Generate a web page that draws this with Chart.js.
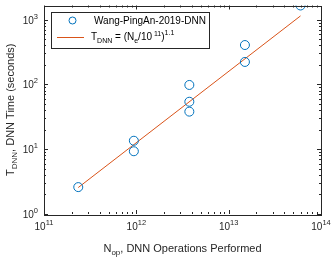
<!DOCTYPE html>
<html>
<head>
<meta charset="utf-8">
<script src="https://cdn.jsdelivr.net/npm/chart.js@4/dist/chart.umd.min.js"></script>
<style>
  html, body { margin: 0; padding: 0; background: #fff; }
  #wrap { width: 332px; height: 259px; }
</style>
</head>
<body>
<div id="wrap"><canvas id="c"></canvas></div>
<script>
// measured points, Wang-PingAn-2019-DNN
const opsPerformed = [2.35e11, 9.4e11, 9.4e11, 3.75e12, 3.75e12, 3.75e12, 1.5e13, 1.5e13, 6.0e13];
const dnnSeconds = [2.6, 13.5, 9.3, 98, 54, 38, 405, 222, 1650];

// fit line end points, T = (N/1e11)^1.1
const fitOps = [2.35e11, 6.0e13];
const fitSeconds = [2.56, 1140];

const xTicks = [11, 12, 13, 14];
const yTicks = [0, 1, 2, 3];

const blue = "#0072BD";
const orange = "#D95319";
const ink = "#262626";
const font = "Liberation Sans, Arial, Helvetica, sans-serif";

// draw text pieces in a row, each with its own size and vertical shift
function richText(ctx, x, y, parts, align) {
  let w = 0;
  for (const p of parts) {
    ctx.font = p.size + "px " + font;
    w += ctx.measureText(p.t).width;
  }
  let cx = align === "center" ? x - w / 2 : align === "right" ? x - w : x;
  for (const p of parts) {
    ctx.font = p.size + "px " + font;
    ctx.fillText(p.t, cx, y + (p.dy || 0));
    cx += ctx.measureText(p.t).width;
  }
}

const axesPlugin = {
  id: "matlabAxes",
  afterDatasetsDraw(chart) {
    const ctx = chart.ctx;
    const a = chart.chartArea;
    const xs = chart.scales.x, ys = chart.scales.y;
    ctx.save();
    ctx.strokeStyle = ink;
    ctx.fillStyle = ink;
    ctx.lineWidth = 1;

    // box
    ctx.strokeRect(Math.round(a.left) + 0.5, Math.round(a.top) + 0.5,
      Math.round(a.right - a.left), Math.round(a.bottom - a.top));

    // ticks inward, all four sides
    ctx.beginPath();
    for (let e = xTicks[0]; e < xTicks[xTicks.length - 1]; e++) {
      for (let m = 1; m < 10; m++) {
        const px = Math.round(xs.getPixelForValue(m * Math.pow(10, e))) + 0.5;
        const len = m === 1 ? 4 : 2;
        ctx.moveTo(px, a.bottom); ctx.lineTo(px, a.bottom - len);
        ctx.moveTo(px, a.top); ctx.lineTo(px, a.top + len);
      }
    }
    for (let e = yTicks[0]; e < yTicks[yTicks.length - 1] + 1; e++) {
      for (let m = 1; m < 10; m++) {
        const v = m * Math.pow(10, e);
        if (v > ys.max) break;
        const py = Math.round(ys.getPixelForValue(v)) + 0.5;
        const len = m === 1 ? 4 : 2;
        ctx.moveTo(a.left, py); ctx.lineTo(a.left + len, py);
        ctx.moveTo(a.right, py); ctx.lineTo(a.right - len, py);
      }
    }
    ctx.stroke();

    // tick labels
    ctx.textBaseline = "alphabetic";
    for (const e of xTicks) {
      const px = xs.getPixelForValue(Math.pow(10, e));
      richText(ctx, px, a.bottom + 16, [{ t: "10", size: 10 }, { t: String(e), size: 7.5, dy: -5 }], "center");
    }
    for (const e of yTicks) {
      const py = ys.getPixelForValue(Math.pow(10, e));
      richText(ctx, a.left - 6, py + 4, [{ t: "10", size: 10 }, { t: String(e), size: 7.5, dy: -5 }], "right");
    }

    // axis titles
    richText(ctx, (a.left + a.right) / 2, 252, [
      { t: "N", size: 11 }, { t: "op", size: 8, dy: 3 }, { t: ", DNN Operations Performed", size: 11 }
    ], "center");
    ctx.save();
    ctx.translate(14, (a.top + a.bottom) / 2);
    ctx.rotate(-Math.PI / 2);
    richText(ctx, 0, 0, [
      { t: "T", size: 11 }, { t: "DNN", size: 8, dy: 3 }, { t: ", DNN Time (seconds)", size: 11 }
    ], "center");
    ctx.restore();

    // legend
    const lx = 51.5, ly = 12.5, lw = 158, lh = 36;
    ctx.fillStyle = "#fff";
    ctx.fillRect(lx, ly, lw, lh);
    ctx.strokeStyle = ink;
    ctx.strokeRect(lx, ly, lw, lh);
    ctx.strokeStyle = blue;
    ctx.beginPath();
    ctx.arc(72.5, 20.5, 3.5, 0, Math.PI * 2);
    ctx.stroke();
    ctx.strokeStyle = orange;
    ctx.beginPath();
    ctx.moveTo(57, 37.5); ctx.lineTo(84, 37.5);
    ctx.stroke();
    ctx.fillStyle = "#000";
    richText(ctx, 94, 24, [{ t: "Wang-PingAn-2019-DNN", size: 10 }], "left");
    richText(ctx, 91, 40, [
      { t: "T", size: 10 }, { t: "DNN", size: 7, dy: 3 }, { t: " = (N", size: 10 },
      { t: "e", size: 7, dy: 3 }, { t: "/10", size: 10 }, { t: " 11", size: 7, dy: -4 },
      { t: ")", size: 10 }, { t: "1.1", size: 7, dy: -5 }
    ], "left");
    ctx.restore();
  }
};

new Chart(document.getElementById("c"), {
  type: "scatter",
  data: {
    datasets: [
      {
        label: "Wang-PingAn-2019-DNN",
        data: opsPerformed.map((x, i) => ({ x: x, y: dnnSeconds[i] })),
        pointStyle: "circle",
        pointRadius: 4.5,
        pointBorderWidth: 1,
        borderColor: blue,
        backgroundColor: "rgba(0,0,0,0)",
        order: 1,
      },
      {
        label: "fit",
        type: "line",
        data: fitOps.map((x, i) => ({ x: x, y: fitSeconds[i] })),
        borderColor: orange,
        borderWidth: 1,
        pointRadius: 0,
        fill: false,
        order: 2,
      },
    ],
  },
  options: {
    responsive: true,
    maintainAspectRatio: false,
    animation: false,
    layout: { padding: { left: 44, right: 11, top: 5, bottom: 45 } },
    plugins: { legend: { display: false }, tooltip: { enabled: false } },
    scales: {
      x: { type: "logarithmic", min: 1e11, max: 1e14, display: false },
      y: { type: "logarithmic", min: 1, max: 1650, display: false },
    },
  },
  plugins: [axesPlugin],
});
</script>
</body>
</html>
